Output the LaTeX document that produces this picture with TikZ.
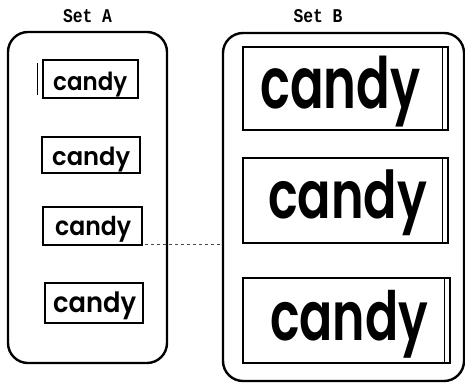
\documentclass[tikz,border=0pt]{standalone}
\usepackage{fontspec}
\usepackage{graphicx}
\newfontfamily\labelfont{Liberation Mono}
\newfontfamily\candyfont{Poppins}[UprightFont={* SemiBold}]
\newcommand\candytext[2]{\resizebox*{#1pt}{#2pt}{\candyfont candy}}
\newcommand\setlabel[1]{\resizebox{49pt}{13pt}{\labelfont\bfseries #1}}
\tikzset{
  outerbox/.style={draw=black, line width=2.4pt, rounded corners=20pt, fill=white, inner sep=0pt},
  candybox/.style={draw=black, line width=1.8pt, fill=white, inner sep=0pt},
  candyword/.style={anchor=north west, inner sep=0pt},
  setname/.style={anchor=base, inner sep=0pt},
  edgeline/.style={line width=1.0pt},
  scanline/.style={dashed, line width=0.5pt, black!70}
}
\begin{document}
\begin{tikzpicture}[x=1pt,y=-1pt]
\useasboundingbox (0,0) rectangle (465,383);
\fill[white] (0,0) rectangle (465,383);
% outer frames
\node[outerbox, minimum width=159pt, minimum height=331pt] (setA) at (87.5,197.5) {};
\node[outerbox, minimum width=241pt, minimum height=348pt] (setB) at (343.5,207) {};
% labels
\node[setname] (labA) at (87.5,22) {\setlabel{Set A}};
\node[setname] (labB) at (318,22) {\setlabel{Set B}};
% Set A boxes
\node[candybox, minimum width=95pt, minimum height=38pt] (bA1) at (90.5,79) {};
\node[candybox, minimum width=98pt, minimum height=36pt] (bA2) at (91,155) {};
\node[candybox, minimum width=99pt, minimum height=38pt] (bA3) at (92.5,226) {};
\node[candybox, minimum width=98pt, minimum height=40pt] (bA4) at (94,303) {};
\draw[edgeline] ([xshift=-5pt,yshift=-4pt]bA1.north west) -- ([xshift=-5pt,yshift=4pt]bA1.south west);
\node[candyword] (tA1) at (53,72) {\candytext{74}{25}};
\node[candyword] (tA2) at (52,147) {\candytext{78}{25}};
\node[candyword] (tA3) at (55,216) {\candytext{76}{26}};
\node[candyword] (tA4) at (53,292) {\candytext{83}{28}};
% Set B boxes
\node[candybox, minimum width=205pt, minimum height=83pt] (bB1) at (345.5,88.5) {};
\node[candybox, minimum width=205pt, minimum height=85pt] (bB2) at (345.5,200.5) {};
\node[candybox, minimum width=207pt, minimum height=85pt] (bB3) at (346.5,320.5) {};
\draw[edgeline] ([xshift=-6pt]bB1.north east) -- ([xshift=-6pt]bB1.south east);
\draw[edgeline] ([xshift=-6pt]bB2.north east) -- ([xshift=-6pt]bB2.south east);
\draw[edgeline] ([xshift=-6pt]bB3.north east) -- ([xshift=-6pt]bB3.south east);
\node[candyword] (tB1) at (260,56) {\candytext{160}{71}};
\node[candyword] (tB2) at (268,170) {\candytext{159}{66}};
\node[candyword] (tB3) at (270,290) {\candytext{158}{68}};
% faint scan line between the sets
\coordinate (ds) at (145,244);
\coordinate (de) at (222,244);
\draw[scanline] (ds) -- (de);
\end{tikzpicture}
\end{document}
